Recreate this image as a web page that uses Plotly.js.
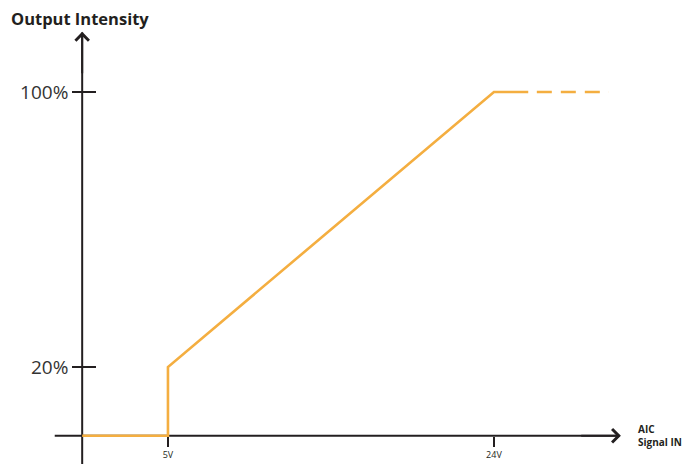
<!DOCTYPE html>
<html>
<head>
<meta charset="utf-8">
<script src="https://cdn.plot.ly/plotly-3.0.1.min.js"></script>
<style>html,body{margin:0;padding:0;background:#fff;}#chart{width:689px;height:464px;}</style>
</head>
<body>
<div id="chart"></div>
<script>
// Data
const signalVolts = [0, 5, 5, 24, 26];
const intensityPct = [0, 0, 20, 100, 100];
const dashedVolts = [26.5, 30.7];
const dashedPct = [100, 100];
const xTickVals = [5, 24];
const xTickText = ['5V', '24V'];
const yTickVals = [20, 100];
const yTickText = ['20%', '100%'];

const orange = '#f4ae40';
const ink = '#231f20';
const XR = [-4.79, 35.37];
const YR = [-8.22, 126.76];
const yAxisPos = (0 - XR[0]) / (XR[1] - XR[0]);
const xAxisPos = (0 - YR[0]) / (YR[1] - YR[0]);

const traces = [
  {x: signalVolts, y: intensityPct, mode: 'lines', line: {color: orange, width: 2.6}, hoverinfo: 'skip', showlegend: false},
  {x: dashedVolts, y: dashedPct, yaxis: 'y2', mode: 'lines', line: {color: orange, width: 2.6, dash: '15px,9px'}, hoverinfo: 'skip', showlegend: false}
];

const font = {family: 'Open Sans, Noto Sans, sans-serif', color: ink};

const layout = {
  width: 689, height: 464,
  margin: {l: 0, r: 0, t: 0, b: 0},
  paper_bgcolor: '#fff', plot_bgcolor: '#fff',
  showlegend: false,
  font: font,
  xaxis: {
    range: XR, showgrid: false, zeroline: false, showline: false,
    anchor: 'free', position: xAxisPos,
    tickmode: 'array', tickvals: xTickVals, ticktext: xTickText,
    ticks: 'outside', ticklen: 10, tickwidth: 2, tickcolor: ink,
    tickfont: {size: 9, family: font.family, color: ink}, fixedrange: true
  },
  yaxis: {
    range: YR, showgrid: false, zeroline: false, showline: false,
    anchor: 'free', position: yAxisPos,
    tickmode: 'array', tickvals: yTickVals, ticktext: yTickText,
    ticks: 'outside', ticklen: 10, tickwidth: 2, tickcolor: ink,
    tickfont: {size: 19, family: font.family, color: '#333'}, fixedrange: true
  },
  yaxis2: {
    range: YR, overlaying: 'y', showgrid: false, zeroline: false, showline: false,
    anchor: 'free', position: yAxisPos,
    tickmode: 'array', tickvals: yTickVals,
    ticks: 'inside', ticklen: 13, tickwidth: 2, tickcolor: ink,
    showticklabels: false, fixedrange: true
  },
  shapes: [
    {type: 'line', xref: 'x', yref: 'y', x0: -1.6, x1: 31.3, y0: 0, y1: 0, line: {color: ink, width: 2}, layer: 'below'},
    {type: 'line', xref: 'x', yref: 'y', x0: 0, x1: 0, y0: YR[0], y1: 117.3, line: {color: ink, width: 2}, layer: 'below'}
  ],
  annotations: [
    {x: 31.4, y: 0, ax: 29, ay: 0, xref: 'x', yref: 'y', axref: 'x', ayref: 'y', text: '', showarrow: true, arrowhead: 4, arrowsize: 1.3, arrowwidth: 2, arrowcolor: ink},
    {x: 0, y: 117.5, ax: 0, ay: 105, xref: 'x', yref: 'y', axref: 'x', ayref: 'y', text: '', showarrow: true, arrowhead: 4, arrowsize: 1.3, arrowwidth: 2, arrowcolor: ink},
    {x: 9 / 689, y: 1 - 18 / 464, xref: 'paper', yref: 'paper', xanchor: 'left', yanchor: 'middle', showarrow: false,
     text: '<b>Output Intensity</b>', font: {size: 16.5, family: font.family, color: ink}},
    {x: 32.3, y: 0, xref: 'x', yref: 'y', xanchor: 'left', yanchor: 'middle', showarrow: false, align: 'left',
     text: '<b>AIC</b><br><b>Signal IN</b>', font: {size: 10, family: font.family, color: ink}}
  ]
};

Plotly.newPlot('chart', traces, layout, {displayModeBar: false, staticPlot: true});
</script>
</body>
</html>
